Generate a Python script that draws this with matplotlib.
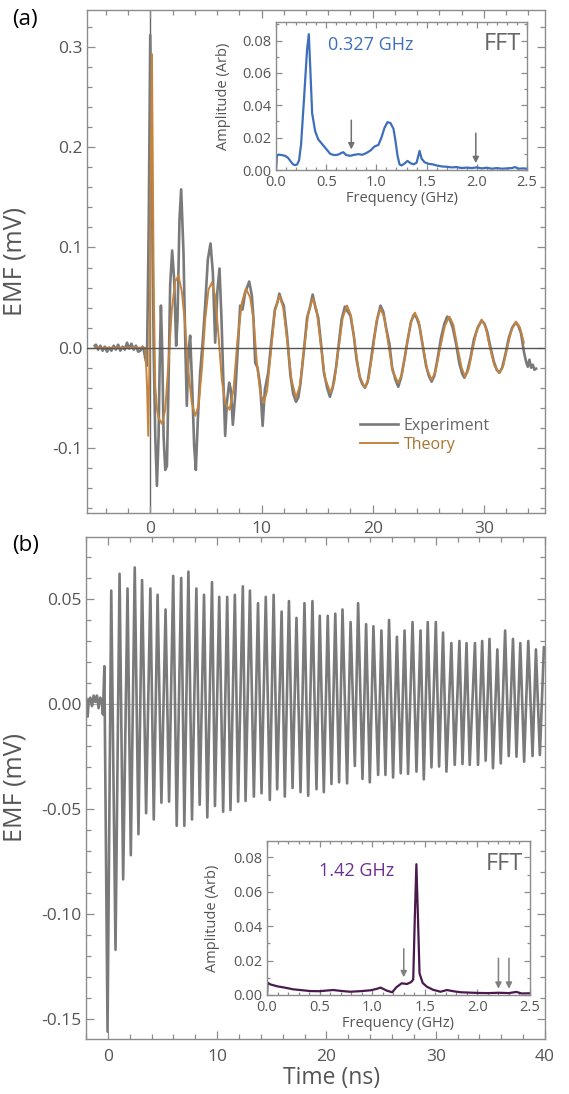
import numpy as np
import matplotlib
matplotlib.use('Agg')
import matplotlib.pyplot as plt
from matplotlib.ticker import MultipleLocator, FormatStrFormatter

plt.rcParams['font.family'] = ['Open Sans', 'DejaVu Sans']
plt.rcParams['axes.unicode_minus'] = False

# ---------------- Panel (a) data ----------------
exp_a_t = [-5.0, -4.9, -4.7, -4.5, -4.3, -4.1, -3.9, -3.7, -3.5, -3.3, -3.1, -2.9, -2.7, -2.5, -2.3,
           -2.1, -1.9, -1.7, -1.5, -1.3, -1.1, -0.9, -0.7, -0.6,
           -0.47, -0.31, -0.15, -0.01, 0.15, 0.30, 0.44, 0.59, 0.74, 0.83, 0.95, 1.07, 1.19, 1.34,
           1.49, 1.63, 1.78, 1.96, 2.14, 2.32, 2.44, 2.62, 2.77, 2.98, 3.16, 3.28, 3.43, 3.58, 3.76,
           3.94, 4.09, 4.27, 4.48, 4.72, 4.93, 5.17, 5.41, 5.62, 5.83, 6.04, 6.22, 6.40, 6.58, 6.73,
           6.88, 7.09, 7.24, 7.42, 7.63, 7.84, 8.08, 8.29, 8.53, 8.89, 9.13, 9.28, 9.43, 9.64, 9.88,
           10.1, 10.3, 10.6, 10.9, 11.2, 11.45, 11.6, 11.8, 12.0, 12.3, 12.6, 12.85, 13.1, 13.3, 13.5,
           13.8, 14.1, 14.35, 14.6, 14.85, 15.1, 15.35, 15.6, 15.9, 16.15, 16.4, 16.7, 16.95, 17.2,
           17.5, 17.75, 18.0, 18.3, 18.55, 18.85, 19.05, 19.3, 19.55, 19.85, 20.1, 20.4, 20.7, 20.95,
           21.2, 21.5, 21.75, 22.05, 22.3, 22.55, 22.85, 23.15, 23.45, 23.7, 23.95, 24.2, 24.5, 24.8,
           25.05, 25.3, 25.55, 25.85, 26.15, 26.45, 26.7, 26.95, 27.2, 27.5, 27.8, 28.05, 28.25, 28.5,
           28.8, 29.1, 29.45, 29.8, 30.05, 30.3, 30.6, 30.9, 31.15, 31.4, 31.65, 31.95, 32.25, 32.55,
           32.85, 33.1, 33.35, 33.6, 33.8, 33.95, 34.1, 34.25, 34.4, 34.55, 34.7]
exp_a_v = [0.002, 0.003, -0.002, 0.002, -0.003, 0.001, -0.004, 0.000, -0.003, 0.002, -0.002, 0.003,
           -0.003, 0.001, -0.002, 0.005, -0.001, 0.004, -0.002, 0.002, -0.004, -0.003, 0.001, -0.002,
           -0.010, -0.018, 0.120, 0.312, 0.150, -0.005, -0.088, -0.138, -0.088, -0.022, 0.042, -0.005,
           -0.088, -0.122, -0.118, -0.038, 0.062, 0.097, 0.068, 0.002, 0.028, 0.128, 0.158, 0.095,
           -0.005, -0.058, -0.005, 0.012, -0.038, -0.098, -0.122, -0.072, -0.025, 0.008, 0.042, 0.088,
           0.104, 0.075, 0.005, 0.058, 0.079, 0.028, -0.038, -0.088, -0.055, -0.035, -0.042, -0.077,
           -0.048, -0.005, 0.042, 0.038, 0.055, 0.066, 0.052, 0.028, -0.015, -0.020, -0.038, -0.078,
           -0.042, -0.025, 0.008, 0.038, 0.046, 0.054, 0.047, 0.042, 0.012, -0.028, -0.046, -0.054,
           -0.050, -0.036, -0.004, 0.030, 0.040, 0.053, 0.040, 0.030, 0.004, -0.024, -0.040, -0.049,
           -0.040, -0.020, 0.004, 0.028, 0.041, 0.036, 0.032, 0.012, -0.012, -0.030, -0.036, -0.040,
           -0.034, -0.012, 0.008, 0.028, 0.042, 0.036, 0.020, 0.004, -0.020, -0.032, -0.039, -0.030,
           -0.012, 0.008, 0.026, 0.033, 0.030, 0.022, 0.002, -0.018, -0.028, -0.034, -0.028, -0.010,
           0.010, 0.024, 0.031, 0.028, 0.020, 0.004, -0.016, -0.026, -0.030, -0.024, -0.010, 0.008,
           0.020, 0.027, 0.024, 0.016, 0.000, -0.014, -0.022, -0.025, -0.020, -0.006, 0.010, 0.020,
           0.025, 0.022, 0.014, -0.004, -0.014, -0.019, -0.012, -0.020, -0.017, -0.022, -0.021]

th_a_t = [-5.0, -0.45, -0.3, -0.19, -0.07, 0.05, 0.14, 0.22, 0.3, 0.44, 0.6, 0.74, 1.04, 1.34, 1.63,
          1.93, 2.23, 2.53, 2.83, 3.13, 3.43, 3.73, 4.03, 4.33, 4.63, 4.93, 5.23, 5.53, 5.83, 6.13,
          6.43, 6.73, 7.12, 7.48, 7.84, 8.23, 8.6, 8.98, 9.28, 9.58, 9.88, 10.2, 10.5, 10.9, 11.2,
          11.6, 11.95, 12.3, 12.7, 13.1, 13.45, 13.8, 14.2, 14.6, 14.95, 15.3, 15.7, 16.2, 16.55,
          16.9, 17.3, 17.7, 18.05, 18.4, 18.8, 19.3, 19.65, 20.0, 20.35, 20.7, 21.05, 21.4, 21.8,
          22.3, 22.65, 23.0, 23.4, 23.8, 24.15, 24.5, 24.9, 25.3, 25.65, 26.05, 26.5, 26.9, 27.25,
          27.6, 28.0, 28.3, 28.65, 29.0, 29.4, 29.8, 30.15, 30.5, 30.95, 31.4, 31.75, 32.1, 32.5,
          32.9, 33.25, 33.6]
th_a_v = [0.0, 0.0, -0.038, -0.088, -0.005, 0.200, 0.293, 0.180, 0.062, -0.038, -0.062, -0.070,
          -0.076, -0.062, -0.015, 0.038, 0.066, 0.072, 0.056, 0.022, -0.025, -0.055, -0.068, -0.058,
          -0.022, 0.028, 0.058, 0.065, 0.052, 0.012, -0.032, -0.055, -0.062, -0.042, 0.008, 0.045,
          0.059, 0.050, 0.028, -0.015, -0.045, -0.055, -0.043, 0.002, 0.036, 0.052, 0.040, 0.008,
          -0.032, -0.050, -0.038, -0.004, 0.034, 0.049, 0.038, 0.006, -0.030, -0.045, -0.034, -0.004,
          0.030, 0.042, 0.032, 0.004, -0.028, -0.040, -0.030, -0.004, 0.027, 0.039, 0.030, 0.004,
          -0.024, -0.035, -0.026, -0.002, 0.024, 0.035, 0.026, 0.003, -0.022, -0.032, -0.024, -0.001,
          0.022, 0.031, 0.023, 0.002, -0.020, -0.029, -0.021, -0.001, 0.019, 0.028, 0.021, 0.002,
          -0.018, -0.025, -0.018, 0.000, 0.018, 0.026, 0.020, 0.005]

fft_a_f = [0.0, 0.01, 0.03, 0.06, 0.09, 0.12, 0.15, 0.17, 0.19, 0.21, 0.23, 0.25, 0.28, 0.31, 0.327,
           0.34, 0.36, 0.39, 0.42, 0.46, 0.50, 0.54, 0.58, 0.62, 0.65, 0.67, 0.70, 0.74, 0.78, 0.82,
           0.86, 0.90, 0.94, 0.98, 1.02, 1.05, 1.08, 1.11, 1.14, 1.17, 1.19, 1.21, 1.23, 1.25, 1.28,
           1.31, 1.34, 1.37, 1.40, 1.43, 1.45, 1.48, 1.52, 1.56, 1.60, 1.65, 1.70, 1.75, 1.80, 1.85,
           1.90, 1.95, 2.00, 2.05, 2.10, 2.15, 2.20, 2.25, 2.30, 2.35, 2.38, 2.42, 2.46, 2.50]
fft_a_amp = [0.000, 0.009, 0.0095, 0.0092, 0.0088, 0.0075, 0.005, 0.0035, 0.003, 0.0034, 0.006, 0.016,
             0.045, 0.075, 0.084, 0.065, 0.035, 0.024, 0.019, 0.016, 0.013, 0.010, 0.0092, 0.0095,
             0.0105, 0.011, 0.0092, 0.0088, 0.0094, 0.0098, 0.0094, 0.0105, 0.012, 0.0145, 0.0155,
             0.020, 0.026, 0.0296, 0.029, 0.0255, 0.018, 0.009, 0.0035, 0.0028, 0.004, 0.0056, 0.0042,
             0.0035, 0.0045, 0.0118, 0.007, 0.0048, 0.0038, 0.0035, 0.0028, 0.0022, 0.002, 0.0016,
             0.0018, 0.0012, 0.0015, 0.0012, 0.0016, 0.001, 0.0014, 0.0008, 0.0012, 0.0008, 0.001,
             0.0012, 0.0018, 0.0008, 0.001, 0.0008]
arrows_a_f = [0.75, 1.99]
arrows_a_top = [0.0325, 0.0245]
arrows_a_tip = [0.011, 0.0025]

# ---------------- Panel (b) data ----------------
b_pre_t = [-2.0, -1.9, -1.85, -1.75, -1.6, -1.45, -1.3, -1.15, -1.0, -0.85, -0.7, -0.55, -0.45]
b_pre_v = [0.003, 0.001, -0.006, 0.002, 0.003, -0.001, 0.004, 0.001, 0.004, -0.002, 0.003, 0.001, -0.005]

b_peak_t = [-0.32, 0.31, 1.07, 1.80, 2.46, 3.13, 3.89, 4.55, 5.28, 5.98, 6.71, 7.37, 8.10, 8.80, 9.53,
            10.19, 10.92, 11.62, 12.35, 13.00, 13.74, 14.45, 15.17, 15.90, 16.57, 17.26, 17.99,
            18.72, 19.39, 20.12, 20.81, 21.47, 22.21, 22.90, 23.63, 24.30, 25.03, 25.73, 26.45,
            27.15, 27.88, 28.61, 29.27, 30.01, 30.67, 31.43, 32.17, 32.82, 33.59, 34.25, 34.92,
            35.64, 36.35, 37.07, 37.74, 38.47, 39.17, 39.90]
b_peak_v = [0.018, 0.054, 0.062, 0.055, 0.065, 0.059, 0.055, 0.052, 0.045, 0.061, 0.060, 0.063, 0.055,
            0.052, 0.058, 0.051, 0.051, 0.052, 0.056, 0.054, 0.048, 0.051, 0.052, 0.044, 0.049,
            0.041, 0.048, 0.049, 0.042, 0.042, 0.043, 0.045, 0.039, 0.048, 0.038, 0.037, 0.035,
            0.040, 0.032, 0.035, 0.039, 0.035, 0.039, 0.039, 0.034, 0.029, 0.030, 0.029, 0.029,
            0.030, 0.031, 0.026, 0.035, 0.031, 0.029, 0.030, 0.026, 0.027]
b_trough_t = [-0.03, 0.70, 1.40, 2.10, 2.80, 3.50, 4.20, 4.90, 5.60, 6.30, 7.00, 7.70, 8.40, 9.10,
              9.80, 10.55, 11.22, 11.92, 12.60, 13.36, 14.06, 14.82, 15.49, 16.19, 16.90, 17.63,
              18.33, 19.09, 19.76, 20.46, 21.16, 21.89, 22.60, 23.30, 23.97, 24.73, 25.40, 26.10,
              26.80, 27.47, 28.24, 28.91, 29.61, 30.31, 30.98, 31.74, 32.45, 33.11, 33.87, 34.57,
              35.24, 35.95, 36.68, 37.39, 38.09, 38.86, 39.53]
b_trough_v = [-0.156, -0.117, -0.0835, -0.072, -0.062, -0.052, -0.055, -0.047, -0.0465, -0.058,
              -0.058, -0.055, -0.048, -0.054, -0.0486, -0.0513, -0.0505, -0.0465, -0.0462, -0.0441,
              -0.0425, -0.0457, -0.0406, -0.0441, -0.040, -0.042, -0.0437, -0.0406, -0.042, -0.0381,
              -0.0373, -0.0378, -0.0295, -0.0357, -0.0373, -0.0338, -0.0338, -0.035, -0.033, -0.0333,
              -0.0322, -0.0359, -0.0302, -0.0298, -0.0322, -0.029, -0.0286, -0.029, -0.029, -0.027,
              -0.0306, -0.0283, -0.0248, -0.0251, -0.0275, -0.0248, -0.0243]

fft_b_f = [0.0, 0.005, 0.03, 0.10, 0.15, 0.25, 0.33, 0.41, 0.50, 0.57, 0.63, 0.70, 0.79, 0.88, 0.98,
           1.04, 1.08, 1.14, 1.19, 1.23, 1.28, 1.33, 1.37, 1.39, 1.405, 1.42, 1.435, 1.45, 1.48,
           1.52, 1.58, 1.65, 1.71, 1.77, 1.84, 1.92, 2.00, 2.10, 2.20, 2.30, 2.37, 2.42, 2.50]
fft_b_amp = [0.000, 0.0072, 0.0062, 0.0050, 0.0045, 0.0033, 0.0028, 0.0023, 0.0022, 0.0026,
             0.0029, 0.0024, 0.0019, 0.0022, 0.0027, 0.0035, 0.0043, 0.0025, 0.0016, 0.0045,
             0.0068, 0.0064, 0.0075, 0.0090, 0.045, 0.076, 0.045, 0.0126, 0.0070, 0.0048, 0.0030,
             0.0019, 0.0029, 0.0022, 0.0016, 0.0014, 0.0012, 0.0011, 0.0013, 0.0011, 0.0018,
             0.0009, 0.0010]
arrows_b_f = [1.30, 2.20, 2.30]
arrows_b_top = [0.0285, 0.023, 0.023]
arrows_b_tip = [0.0087, 0.002, 0.002]

# ---------------- styling ----------------
GRAY_LINE = '#7a7a7a'
THEORY = '#c4843f'
THEORY_TXT = '#a8732c'
SPINE = '#8c8c8c'
TICKLBL = '#555555'
BLUE = '#3f6fba'
PURPLE_LINE = '#4a1a4e'
PURPLE_TXT = '#6d2f92'

W, H = 569, 1094
fig = plt.figure(figsize=(W / 100, H / 100), dpi=100)


def rect(l, t, r, b):
    return [l / W, 1 - b / H, (r - l) / W, (b - t) / H]


def style(ax, fs, maj=6, mnr=3.5, xpad=6, ypad=3):
    for s in ax.spines.values():
        s.set_color(SPINE)
        s.set_linewidth(1.0)
    ax.tick_params(which='both', direction='in', top=True, right=True, color=SPINE,
                   labelcolor=TICKLBL, labelsize=fs, width=0.9)
    ax.tick_params(which='major', length=maj)
    ax.tick_params(which='minor', length=mnr)
    ax.tick_params(axis='x', pad=xpad)
    ax.tick_params(axis='y', pad=ypad)


# Panel (a)
ax1 = fig.add_axes(rect(87, 10, 545, 513))
ax1.axhline(0, color='#555555', lw=1.0, zorder=4)
ax1.axvline(0, color='#666666', lw=1.0, zorder=1)
ax1.plot(exp_a_t, exp_a_v, color=GRAY_LINE, lw=1.9, label='Experiment', zorder=2)
ax1.plot(th_a_t, th_a_v, color=THEORY, lw=1.4, label='Theory', zorder=3)
ax1.set_xlim(-5.7, 35.5)
ax1.set_ylim(-0.165, 0.337)
ax1.xaxis.set_major_locator(MultipleLocator(10))
ax1.xaxis.set_minor_locator(MultipleLocator(2))
ax1.yaxis.set_major_locator(MultipleLocator(0.1))
ax1.yaxis.set_minor_locator(MultipleLocator(0.02))
ax1.yaxis.set_major_formatter(FormatStrFormatter('%.1f'))
style(ax1, 12.5, xpad=6, ypad=3)
ax1.set_ylabel('EMF (mV)', fontsize=18, color=TICKLBL)
ax1.yaxis.set_label_coords(-0.13, 0.5)
leg = ax1.legend(loc='upper left', bbox_to_anchor=(0.578, 0.205), frameon=False, fontsize=11.5,
                 handlelength=2.4, handletextpad=0.35, labelspacing=0.2, borderpad=0)
leg.get_texts()[0].set_color('#666666')
leg.get_texts()[1].set_color(THEORY_TXT)
fig.text(12 / W, 1 - 20 / H, '(a)', fontsize=16, color='black', va='center', ha='left')

# Inset (a)
ins1 = fig.add_axes(rect(276, 22, 527, 170))
ins1.set_facecolor('white')
ins1.plot(fft_a_f, fft_a_amp, color=BLUE, lw=1.6)
for f, top, tip in zip(arrows_a_f, arrows_a_top, arrows_a_tip):
    ins1.annotate('', xy=(f, tip), xytext=(f, top),
                  arrowprops=dict(arrowstyle='-|>', color='#707070', lw=1.1, mutation_scale=9))
ins1.set_xlim(0, 2.5)
ins1.set_ylim(0, 0.0915)
ins1.xaxis.set_major_locator(MultipleLocator(0.5))
ins1.xaxis.set_minor_locator(MultipleLocator(0.1))
ins1.yaxis.set_major_locator(MultipleLocator(0.02))
ins1.yaxis.set_minor_locator(MultipleLocator(0.01))
ins1.yaxis.set_major_formatter(FormatStrFormatter('%.2f'))
ins1.xaxis.set_major_formatter(FormatStrFormatter('%.1f'))
style(ins1, 10.5, maj=4, mnr=2.5, xpad=3.5, ypad=3.5)
ins1.set_xlabel('Frequency (GHz)', fontsize=10.5, color=TICKLBL, labelpad=1)
ins1.set_ylabel('Amplitude (Arb)', fontsize=10.5, color=TICKLBL)
ins1.yaxis.set_label_coords(-0.18, 0.5)
ins1.text(0.52, 0.0775, '0.327 GHz', color=BLUE, fontsize=13, va='center', ha='left')
ins1.text(0.975, 0.93, 'FFT', transform=ins1.transAxes, color='#666666', fontsize=17,
          va='top', ha='right')

# Panel (b)
ax2 = fig.add_axes(rect(86, 537, 545, 1039))
b_t = np.array(b_pre_t + b_peak_t + b_trough_t)
b_v = np.array(b_pre_v + b_peak_v + b_trough_v)
order = np.argsort(b_t)
ax2.axhline(0, color='#b5b5b5', lw=0.8, zorder=1)
ax2.plot(b_t[order], b_v[order], color=GRAY_LINE, lw=1.9, zorder=2)
ax2.set_xlim(-2, 40)
ax2.set_ylim(-0.1595, 0.0795)
ax2.xaxis.set_major_locator(MultipleLocator(10))
ax2.xaxis.set_minor_locator(MultipleLocator(2))
ax2.yaxis.set_major_locator(MultipleLocator(0.05))
ax2.yaxis.set_minor_locator(MultipleLocator(0.01))
ax2.yaxis.set_major_formatter(FormatStrFormatter('%.2f'))
style(ax2, 12.5, xpad=7.5, ypad=3)
ax2.set_ylabel('EMF (mV)', fontsize=18, color=TICKLBL)
ax2.yaxis.set_label_coords(-0.128, 0.5)
ax2.set_xlabel('Time (ns)', fontsize=16.5, color=TICKLBL)
ax2.xaxis.set_label_coords(0.536, -0.054)
fig.text(12 / W, 1 - 546 / H, '(b)', fontsize=16, color='black', va='center', ha='left')

# Inset (b)
ins2 = fig.add_axes(rect(267, 841, 530, 995))
ins2.set_facecolor('white')
ins2.plot(fft_b_f, fft_b_amp, color=PURPLE_LINE, lw=1.6)
for f, top, tip in zip(arrows_b_f, arrows_b_top, arrows_b_tip):
    ins2.annotate('', xy=(f, tip), xytext=(f, top),
                  arrowprops=dict(arrowstyle='-|>', color='#808080', lw=1.1, mutation_scale=9))
ins2.set_xlim(0, 2.5)
ins2.set_ylim(0, 0.0895)
ins2.xaxis.set_major_locator(MultipleLocator(0.5))
ins2.xaxis.set_minor_locator(MultipleLocator(0.1))
ins2.yaxis.set_major_locator(MultipleLocator(0.02))
ins2.yaxis.set_minor_locator(MultipleLocator(0.01))
ins2.yaxis.set_major_formatter(FormatStrFormatter('%.2f'))
ins2.xaxis.set_major_formatter(FormatStrFormatter('%.1f'))
style(ins2, 10.5, maj=4, mnr=2.5, xpad=3.5, ypad=3.5)
ins2.set_xlabel('Frequency (GHz)', fontsize=10.5, color=TICKLBL, labelpad=1)
ins2.set_ylabel('Amplitude (Arb)', fontsize=10.5, color=TICKLBL)
ins2.yaxis.set_label_coords(-0.178, 0.5)
ins2.text(0.49, 0.072, '1.42 GHz', color=PURPLE_TXT, fontsize=13, va='center', ha='left')
ins2.text(0.975, 0.93, 'FFT', transform=ins2.transAxes, color='#666666', fontsize=17,
          va='top', ha='right')

fig.savefig('out.png', dpi=100)
